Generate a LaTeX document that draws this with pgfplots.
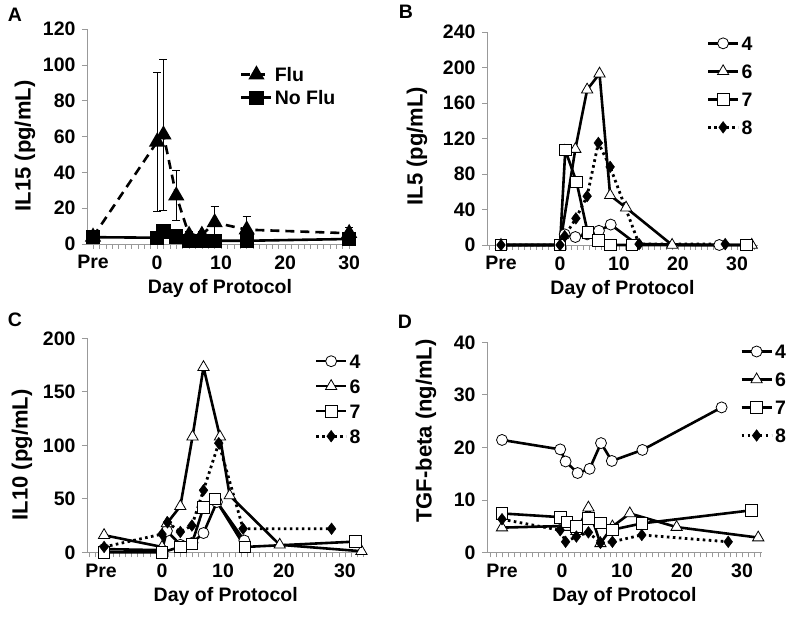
\documentclass[border=0pt]{standalone}
\usepackage{fontspec}
\setmainfont{Liberation Sans}
\usepackage{pgfplots}
\pgfplotsset{compat=1.18}
\newcommand{\fs}{\bfseries\fontsize{19.5}{20}\selectfont}
\newcommand{\fl}{\bfseries\fontsize{22}{22}\selectfont}
\pgfplotsset{
  panel/.style={
    scale only axis, clip=false,
    axis x line*=bottom, axis y line*=left,
    axis line style={draw=gray!80, line width=0.8pt},
    every tick/.style={draw=gray!80, line width=0.6pt},
    tick align=outside,
    major tick length=5pt, minor tick length=5pt,
    xtick={-10,0,10,20,30}, xticklabels={Pre,0,10,20,30},
    ymin=0,
    /pgf/number format/assume math mode=true,
    tick label style={font=\fs},
    xticklabel style={yshift=-3pt},
    yticklabel style={xshift=-3pt},
    xlabel={Day of Protocol},
    xlabel style={font=\fs, at={(axis description cs:0.5,0)}, anchor=center, yshift=-44pt},
    legend style={draw=none, fill=none, font=\fs, anchor=north west, inner sep=0pt,
      nodes={inner sep=2pt, text height=14pt, text depth=0pt}},
    legend cell align=left,
    legend image code/.code={\draw[mark repeat=2,mark phase=2,##1] plot coordinates {(0pt,0pt)(15pt,0pt)(30pt,0pt)};},
  },
  s4/.style={black, line width=2.6pt, mark=*, mark size=5.5pt, mark options={solid, fill=white, draw=black, line width=0.8pt}},
  s6/.style={black, line width=2.6pt, mark=triangle*, mark size=6.5pt, mark options={solid, fill=white, draw=black, line width=0.8pt}},
  s7/.style={black, line width=2.6pt, mark=square*, mark size=5.8pt, mark options={solid, fill=white, draw=black, line width=0.8pt}},
  s8/.style={black, line width=2.8pt, dash pattern=on 2.6pt off 3.4pt, mark=diamond*, mark size=5.8pt, mark options={solid, fill=black, draw=black, line width=0.5pt}},
}
\begin{document}
\begin{tikzpicture}[x=1pt,y=1pt]
\path[use as bounding box] (0,0) rectangle (800,618);
\node[font=\fs] at (15,603) {A};
\node[font=\fs] at (406,606) {B};
\node[font=\fs] at (15,298) {C};
\node[font=\fs] at (405,296) {D};

% Panel A
\begin{axis}[panel, at={(87pt,374pt)}, anchor=south west, width=266pt, height=215pt,
  xmin=-10.94, xmax=30.6, ymax=120, ytick={0,20,...,120}, minor xtick={-10,...,30},
  ylabel={IL15 (pg/mL)}, ylabel style={font=\fl, at={(axis description cs:0,0.456)}, anchor=center, yshift=62pt},
  legend style={at={(axis description cs:0.575,0.83)}, row sep=5pt}]
\addplot[black, line width=2.6pt, dash pattern=on 9pt off 6pt, mark=triangle*, mark size=6.8pt, mark options={solid, fill=black},
  error bars/.cd, y dir=both, y explicit, error bar style={solid, line width=0.6pt}, error mark options={solid, rotate=90, mark size=4pt, line width=0.6pt}]
  coordinates {(-10,4) +- (0,0) (0,57) +- (0,39) (1,61) +- (0,42) (3,27) +- (0,14) (5,5) +- (0,2) (7,5) +- (0,2) (9,12) +- (0,9) (14,8) +- (0,7.5) (30,6) +- (0,3.5)};
\addlegendentry{Flu}
\addplot[black, line width=2.6pt, mark=square*, mark size=5.8pt, mark options={solid, fill=black}]
  coordinates {(-10,3.8) (0,3.5) (1,7) (3,4.2) (5,1.8) (7,1.8) (9,1.8) (14,1.8) (30,2.8)};
\addlegendentry{No Flu}
\end{axis}

% Panel B
\begin{axis}[panel, at={(487pt,373pt)}, anchor=south west, width=271pt, height=213pt,
  xmin=-12.37, xmax=33.56, ymax=240, ytick={0,40,...,240}, minor xtick={-12,...,33},
  ylabel={IL5 (pg/mL)}, ylabel style={font=\fl, at={(axis description cs:0,0.465)}, anchor=center, yshift=70pt},
  legend style={at={(axis description cs:0.81,0.99)}, row sep=10pt}]
\addplot[s4] coordinates {(-10,0) (0,0) (0.8,12) (2.6,9) (4.6,12) (6.6,16) (8.6,23) (13,1) (27,0)};
\addlegendentry{4}
\addplot[s6] coordinates {(-10,0) (0,0) (2.6,108) (4.6,175) (6.7,193) (8.5,56) (11.2,42) (19,0) (32.5,0)};
\addlegendentry{6}
\addplot[s7] coordinates {(-10,0) (0,0) (0.9,107) (2.8,71) (4.7,14) (6.5,5) (8.5,0) (12.2,0) (31.6,0)};
\addlegendentry{7}
\addplot[s8] coordinates {(-10,0) (0,0) (0.8,10) (2.7,30) (4.6,55) (6.5,115) (8.5,88) (13.4,1) (28,1)};
\addlegendentry{8}
\end{axis}

% Panel C
\begin{axis}[panel, at={(87pt,65.7pt)}, anchor=south west, width=277.5pt, height=214pt,
  xmin=-12.3, xmax=33.2, ymax=200, ytick={0,50,...,200}, minor xtick={-12,...,33},
  ylabel={IL10 (pg/mL)}, ylabel style={font=\fl, at={(axis description cs:0,0.455)}, anchor=center, yshift=65pt},
  legend style={at={(axis description cs:0.82,0.936)}, row sep=7pt}]
\addplot[s4] coordinates {(-9.5,3) (0,2) (0.8,20) (3,7) (5,9) (6.8,18) (9,47) (13.5,11)};
\addlegendentry{4}
\addplot[s6] coordinates {(-9.5,16) (0,5) (0.8,27) (3,43) (5,108) (6.8,173) (9.5,108) (11.1,53) (19.3,7) (32.7,1)};
\addlegendentry{6}
\addplot[s7] coordinates {(-9.5,0) (0,0) (3,5) (4.9,8) (6.8,42) (8.7,50) (13.6,5) (31.7,10)};
\addlegendentry{7}
\addplot[s8] coordinates {(-9.5,5) (0,17) (0.9,28) (3,19) (4.9,25) (6.8,58) (9.3,102) (13.3,22) (27.8,22)};
\addlegendentry{8}
\end{axis}

% Panel D
\begin{axis}[panel, at={(487pt,65.7pt)}, anchor=south west, width=275pt, height=210pt,
  xmin=-12.5, xmax=33.33, ymax=40, ytick={0,10,...,40}, minor xtick={-12,...,33},
  ylabel={TGF-beta (ng/mL)}, ylabel style={font=\fl, at={(axis description cs:0,0.578)}, anchor=center, yshift=61pt},
  legend style={at={(axis description cs:0.92,1.0)}, row sep=10pt}]
\addplot[s4] coordinates {(-10,21.4) (-0.3,19.6) (0.6,17.3) (2.6,15.1) (4.6,15.9) (6.5,20.8) (8.3,17.4) (13.4,19.5) (26.6,27.6)};
\addlegendentry{4}
\addplot[s6] coordinates {(-10,4.7) (0,5) (0.8,4.8) (2.4,4) (4.4,8.5) (6.4,1.7) (8.4,4.9) (11.3,7.4) (19.1,4.8) (32.7,2.8)};
\addlegendentry{6}
\addplot[s7] coordinates {(-10,7.4) (-0.3,6.7) (0.8,5.8) (2.4,4.9) (4.4,6.5) (6.4,5.6) (8.4,4.3) (13.3,5.5) (31.6,8.0)};
\addlegendentry{7}
\addplot[s8] coordinates {(-10,6.3) (-0.3,4.2) (0.6,2.0) (2.4,3.0) (4.4,3.8) (6.4,1.8) (8.4,2.0) (13.3,3.3) (27.7,2.0)};
\addlegendentry{8}
\end{axis}
\end{tikzpicture}
\end{document}
